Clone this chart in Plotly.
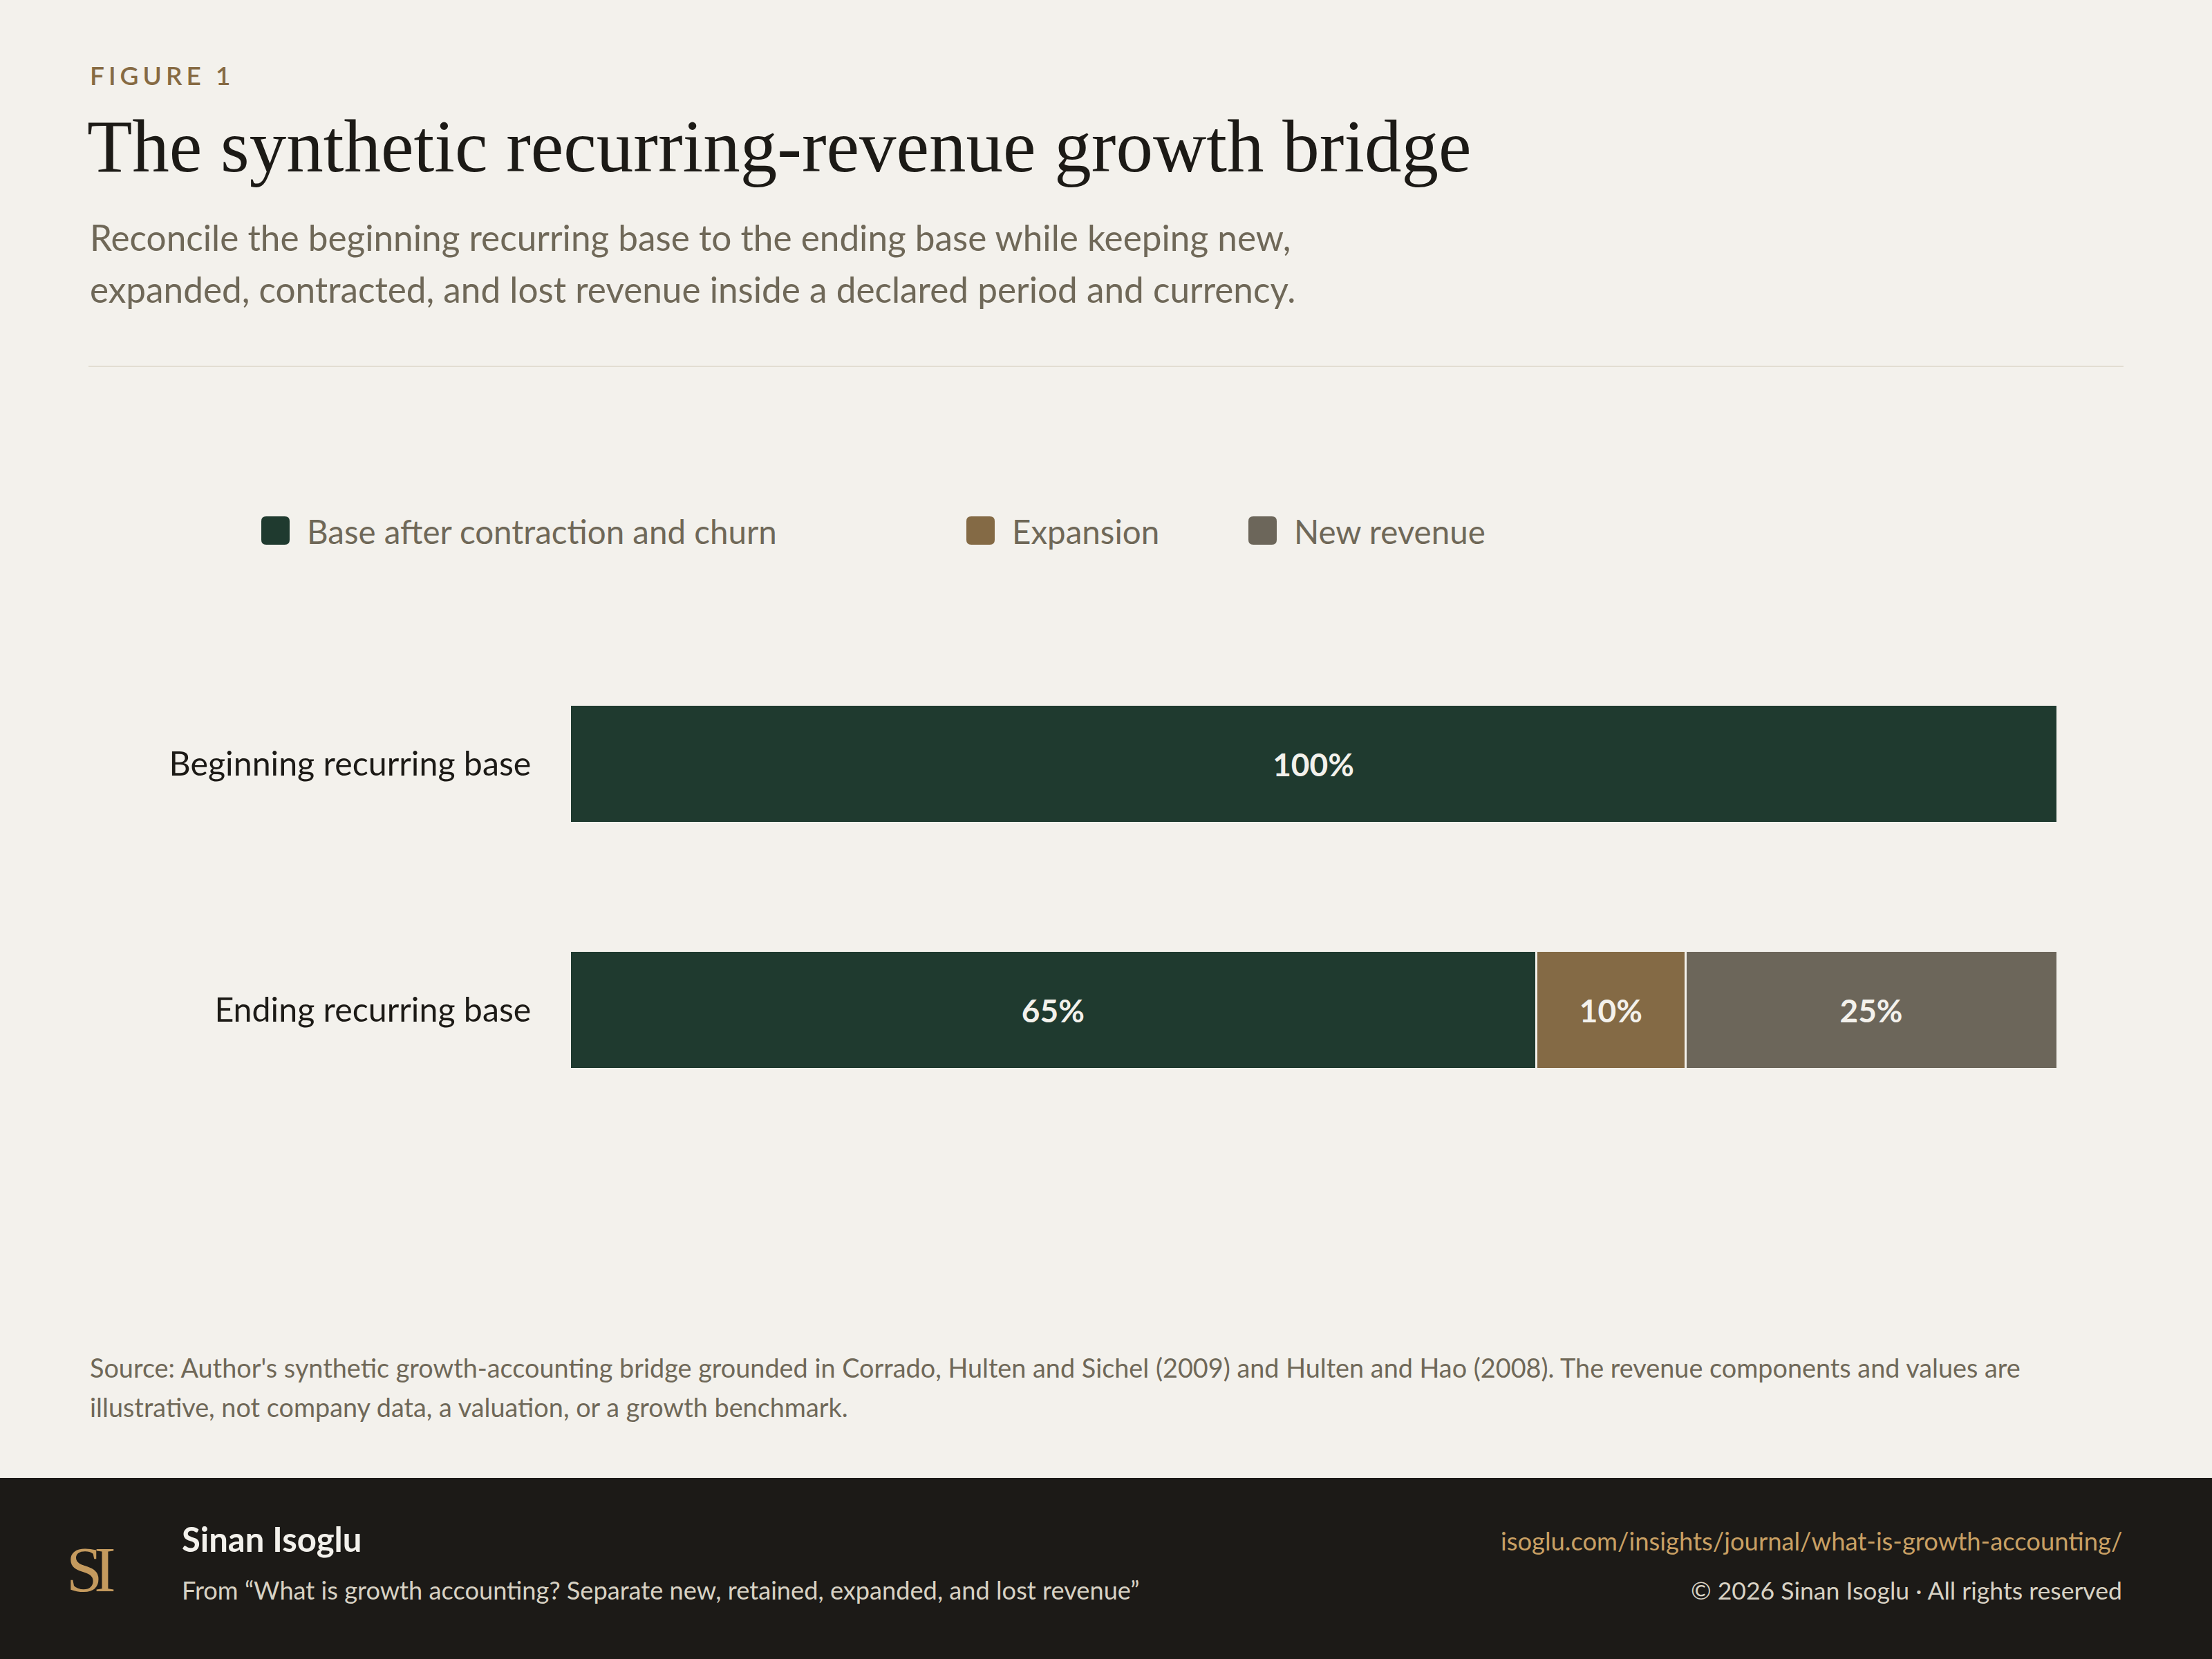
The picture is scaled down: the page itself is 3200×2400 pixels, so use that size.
import plotly.graph_objects as go

# data
categories = ["Beginning recurring base", "Ending recurring base"]
series_names = ["Base after contraction and churn", "Expansion", "New revenue"]
base_values = [100, 65]
expansion_values = [None, 10]
new_values = [None, 25]
series_colors = ["#1F3A2F", "#846A45", "#6C665A"]

BG = "#F3F1EC"
W, H = 3200, 2400
ML, MR, MT, MB = 824, 224, 927, 761
PW, PH = W - ML - MR, H - MT - MB
SANS = "Lato"
SERIF = "Liberation Serif"


def px_x(px):
    return (px - ML) / PW


def px_y(py):
    return 1 - (py - MT) / PH


def rounded_square(x0, y0, size, r):
    # path in paper coords, built from pixel corners
    x1, y1 = x0 + size, y0 + size
    pts = [
        ("M", x0 + r, y0), ("L", x1 - r, y0), ("Q", x1, y0, x1, y0 + r),
        ("L", x1, y1 - r), ("Q", x1, y1, x1 - r, y1), ("L", x0 + r, y1),
        ("Q", x0, y1, x0, y1 - r), ("L", x0, y0 + r), ("Q", x0, y0, x0 + r, y0),
    ]
    out = []
    for p in pts:
        cmd, coords = p[0], p[1:]
        xy = []
        for i in range(0, len(coords), 2):
            xy.append("%.5f,%.5f" % (px_x(coords[i]), px_y(coords[i + 1])))
        out.append(cmd + " ".join(xy))
    return " ".join(out) + " Z"


fig = go.Figure()
for name, vals, color in zip(series_names, [base_values, expansion_values, new_values], series_colors):
    fig.add_trace(go.Bar(
        y=categories,
        x=vals,
        name=name,
        orientation="h",
        marker=dict(color=color, line=dict(color=BG, width=3)),
        texttemplate="%{x}%",
        textposition="inside",
        insidetextanchor="middle",
        textangle=0,
        textfont=dict(family=SANS, size=46, color=BG, weight="bold"),
        showlegend=False,
        hoverinfo="skip",
    ))

annotations = []
shapes = []

# header
annotations.append(dict(text='<span style="letter-spacing:6px">FIGURE 1</span>', x=px_x(128), y=px_y(108),
                        font=dict(family=SANS, size=37, color="#866A43", weight=600),
                        xanchor="left", yanchor="middle"))
annotations.append(dict(text="The synthetic recurring-revenue growth bridge", x=px_x(124), y=px_y(212),
                        font=dict(family=SERIF, size=107, color="#1C1A16"), xanchor="left", yanchor="middle"))
annotations.append(dict(text="Reconcile the beginning recurring base to the ending base while keeping new,",
                        x=px_x(128), y=px_y(343), font=dict(family=SANS, size=51.3, color="#6F6858"),
                        xanchor="left", yanchor="middle"))
annotations.append(dict(text="expanded, contracted, and lost revenue inside a declared period and currency.",
                        x=px_x(128), y=px_y(418), font=dict(family=SANS, size=51.3, color="#6F6858"),
                        xanchor="left", yanchor="middle"))
shapes.append(dict(type="line", xref="paper", yref="paper", x0=px_x(128), x1=px_x(3072), y0=px_y(530), y1=px_y(530),
                   line=dict(color="#E2DDD2", width=2)))

# legend
legend_x = [378, 1398, 1806]
for name, color, lx in zip(series_names, series_colors, legend_x):
    shapes.append(dict(type="path", xref="paper", yref="paper", path=rounded_square(lx, 747, 41, 7),
                       fillcolor=color, line=dict(width=0)))
    annotations.append(dict(text=name, x=px_x(lx + 64), y=px_y(768), xanchor="left", yanchor="middle",
                            font=dict(family=SANS, size=47.5, color="#6F6858")))

# source
annotations.append(dict(text="Source: Author's synthetic growth-accounting bridge grounded in Corrado, Hulten and Sichel (2009) and Hulten and Hao (2008). The revenue components and values are",
                        x=px_x(128), y=px_y(1978), xanchor="left", yanchor="middle",
                        font=dict(family=SANS, size=37.8, color="#6F6858")))
annotations.append(dict(text="illustrative, not company data, a valuation, or a growth benchmark.",
                        x=px_x(128), y=px_y(2035), xanchor="left", yanchor="middle",
                        font=dict(family=SANS, size=37.8, color="#6F6858")))

# footer
shapes.append(dict(type="rect", xref="paper", yref="paper", x0=px_x(0), x1=px_x(W), y0=px_y(2138), y1=px_y(H),
                   fillcolor="#1C1A17", line=dict(width=0), layer="below"))
annotations.append(dict(text='<span style="letter-spacing:-12px">SI</span>', x=px_x(130), y=px_y(2270),
                        xanchor="center", yanchor="middle",
                        font=dict(family=SERIF, size=94, color="#C49A5E")))
annotations.append(dict(text="Sinan Isoglu", x=px_x(261), y=px_y(2226), xanchor="left", yanchor="middle",
                        font=dict(family=SANS, size=49, color="#F3F1EC", weight="bold")))
annotations.append(dict(text="From \u201cWhat is growth accounting? Separate new, retained, expanded, and lost revenue\u201d",
                        x=px_x(261), y=px_y(2300), xanchor="left", yanchor="middle",
                        font=dict(family=SANS, size=36.2, color="#D8D2C4")))
annotations.append(dict(text="isoglu.com/insights/journal/what-is-growth-accounting/", x=px_x(3072), y=px_y(2229),
                        xanchor="right", yanchor="middle", font=dict(family=SANS, size=36.4, color="#C9A064")))
annotations.append(dict(text="\u00a9 2026 Sinan Isoglu \u00b7 All rights reserved", x=px_x(3072), y=px_y(2300),
                        xanchor="right", yanchor="middle", font=dict(family=SANS, size=35.6, color="#D8D2C4")))

for a in annotations:
    a.update(xref="paper", yref="paper", showarrow=False)

fig.update_layout(
    width=W, height=H,
    margin=dict(l=ML, r=MR, t=MT, b=MB, pad=0),
    paper_bgcolor=BG, plot_bgcolor=BG,
    barmode="stack", bargap=0.52,
    annotations=annotations, shapes=shapes,
    showlegend=False,
    font=dict(family=SANS),
)
fig.update_xaxes(range=[0, 100], visible=False, showgrid=False, zeroline=False)
fig.update_yaxes(range=[1.5, -0.5], showgrid=False, zeroline=False, showline=False,
                 ticks="outside", ticklen=45, tickcolor="rgba(0,0,0,0)",
                 tickfont=dict(family=SANS, size=48.3, color="#1C1A16"))

fig.write_html("out.html", config={"displayModeBar": False},
               post_script="document.body.style.margin='0';")
